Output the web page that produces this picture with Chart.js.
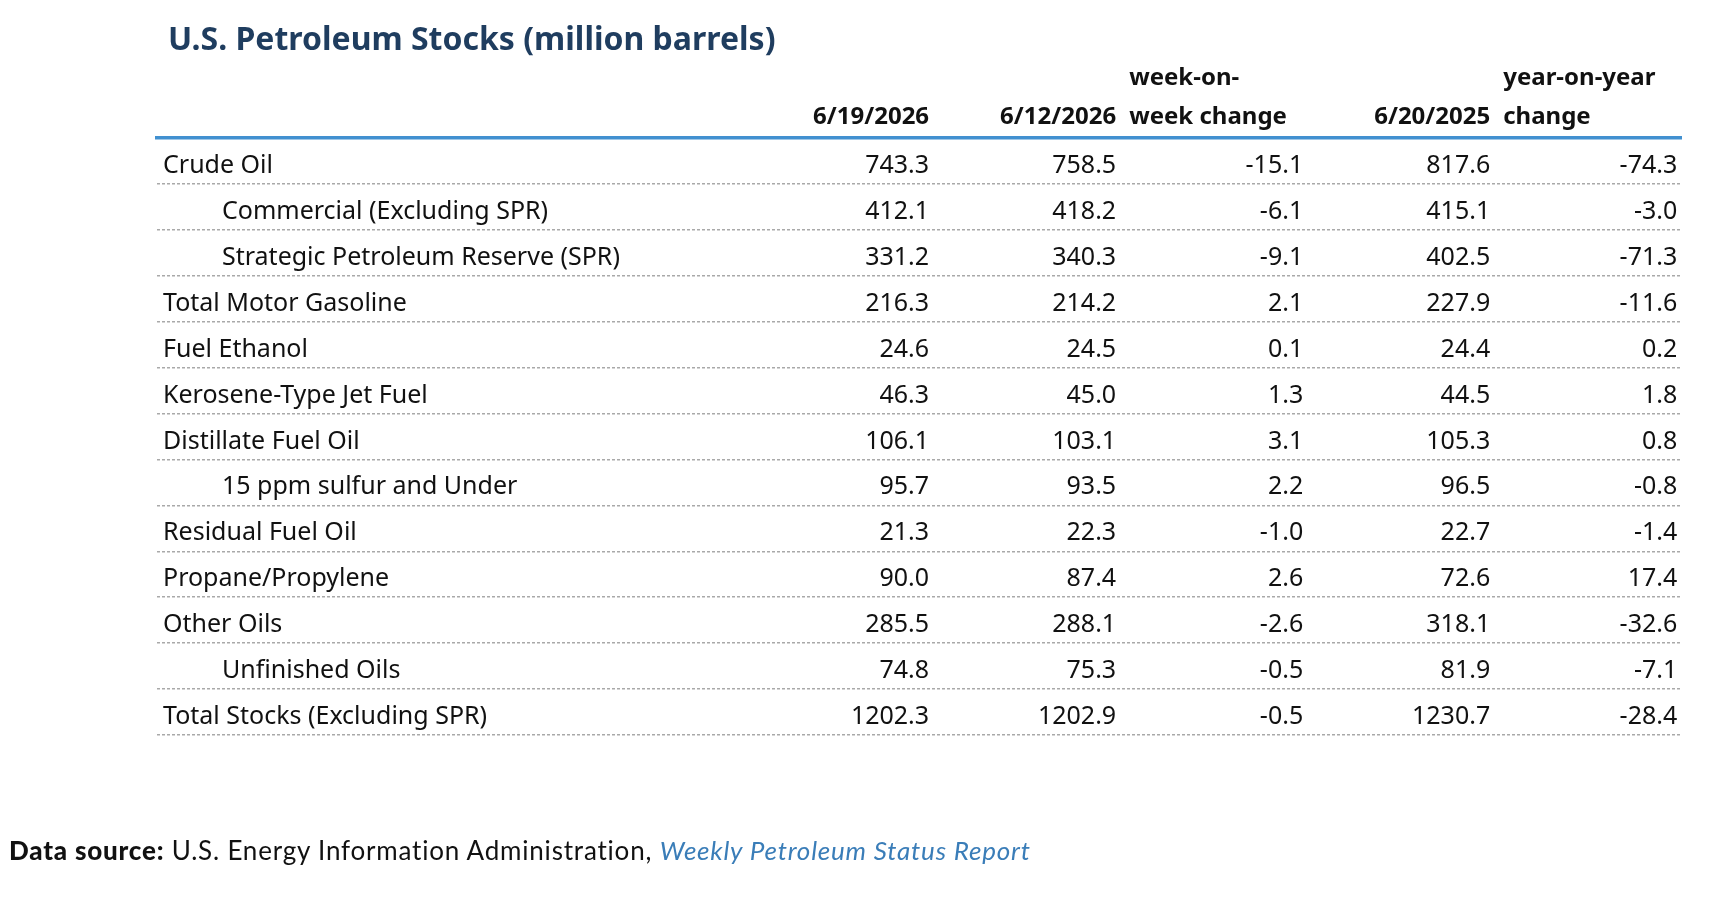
<!DOCTYPE html>
<html>
<head>
<meta charset="utf-8">
<script src="https://cdn.jsdelivr.net/npm/chart.js@4"></script>
<style>
  html, body { margin: 0; padding: 0; background: #fff; }
  #wrap { position: relative; width: 1716px; height: 912px; }
  #source {
    position: absolute; left: 9px; top: 837px;
    font-family: Lato, "Noto Sans", sans-serif; font-size: 26px; line-height: 1;
    letter-spacing: 0.8px; color: #111; white-space: nowrap;
  }
  #source b { font-weight: 900; }
  #source i { color: #3a7db8; }
</style>
</head>
<body>
<div id="wrap">
  <canvas id="stocks" width="1716" height="912"></canvas>
  <div id="source"><b>Data source:</b> U.S. Energy Information Administration, <i>Weekly Petroleum Status Report</i></div>
</div>
<script>
const TITLE = 'U.S. Petroleum Stocks (million barrels)';

const rowNames = [
  'Crude Oil',
  'Commercial (Excluding SPR)',
  'Strategic Petroleum Reserve (SPR)',
  'Total Motor Gasoline',
  'Fuel Ethanol',
  'Kerosene-Type Jet Fuel',
  'Distillate Fuel Oil',
  '15 ppm sulfur and Under',
  'Residual Fuel Oil',
  'Propane/Propylene',
  'Other Oils',
  'Unfinished Oils',
  'Total Stocks (Excluding SPR)',
];
// 1 = sub-row of the one above it
const rowLevel = [0, 1, 1, 0, 0, 0, 0, 1, 0, 0, 0, 1, 0];

const headTop = ['', '', 'week-on-', '', 'year-on-year'];
const headBottom = ['6/19/2026', '6/12/2026', 'week change', '6/20/2025', 'change'];

const stocks0619 = [743.3, 412.1, 331.2, 216.3, 24.6, 46.3, 106.1, 95.7, 21.3, 90.0, 285.5, 74.8, 1202.3];
const stocks0612 = [758.5, 418.2, 340.3, 214.2, 24.5, 45.0, 103.1, 93.5, 22.3, 87.4, 288.1, 75.3, 1202.9];
const weekChange = [-15.1, -6.1, -9.1, 2.1, 0.1, 1.3, 3.1, 2.2, -1.0, 2.6, -2.6, -0.5, -0.5];
const stocks0620 = [817.6, 415.1, 402.5, 227.9, 24.4, 44.5, 105.3, 96.5, 22.7, 72.6, 318.1, 81.9, 1230.7];
const yearChange = [-74.3, -3.0, -71.3, -11.6, 0.2, 1.8, 0.8, -0.8, -1.4, 17.4, -32.6, -7.1, -28.4];

const columns = [stocks0619, stocks0612, weekChange, stocks0620, yearChange];

const FONT = '"Noto Sans", "Open Sans", sans-serif';
const TEXT = '#111';

// each column is a dataset; x = column number, y = row label
const datasets = columns.map((values, c) => ({
  label: headBottom[c],
  data: values.map((v, i) => ({ x: c + 1, y: rowNames[i], v })),
  pointRadius: 0,
  pointHoverRadius: 0,
}));

const tablePlugin = {
  id: 'tableText',
  afterDraw(chart) {
    const { ctx, chartArea, scales } = chart;
    const x = scales.x, y = scales.y;
    ctx.save();

    // title
    ctx.fillStyle = '#1f3d5f';
    ctx.font = 'bold 32px ' + FONT;
    ctx.textAlign = 'left';
    ctx.textBaseline = 'alphabetic';
    ctx.fillText(TITLE, chartArea.left + 11, 50);

    // column headers
    ctx.fillStyle = TEXT;
    ctx.font = 'bold 24px ' + FONT;
    headBottom.forEach((h, c) => {
      const isChange = headTop[c] !== '';
      const px = isChange ? x.getPixelForValue(c) + 13 : x.getPixelForValue(c + 1);
      ctx.textAlign = isChange ? 'left' : 'right';
      ctx.fillText(h, px, chartArea.top - 14);
      if (isChange) ctx.fillText(headTop[c], px, chartArea.top - 53);
    });

    // row labels
    ctx.font = '25px ' + FONT;
    ctx.textAlign = 'left';
    rowNames.forEach((name, i) => {
      const py = y.getPixelForValue(i) + 12;
      ctx.fillText(name, chartArea.left + 6 + rowLevel[i] * 59, py);
    });

    // cell values at each dataset point
    ctx.textAlign = 'right';
    chart.data.datasets.forEach((ds, d) => {
      chart.getDatasetMeta(d).data.forEach((pt, i) => {
        ctx.fillText(ds.data[i].v.toFixed(1), pt.x, pt.y + 12);
      });
    });
    ctx.restore();
  }
};

new Chart(document.getElementById('stocks'), {
  type: 'scatter',
  data: { datasets },
  options: {
    responsive: false,
    animation: false,
    events: [],
    devicePixelRatio: 1,
    layout: { padding: { left: 157, right: 35, top: 138, bottom: 177 } },
    plugins: { legend: { display: false }, tooltip: { enabled: false } },
    scales: {
      x: {
        type: 'linear',
        position: 'top',
        min: -3.128,
        max: 5.02,
        ticks: { display: false },
        grid: { display: false, drawTicks: false },
        border: { display: true, color: '#4190d0', width: 3.5 },
      },
      y: {
        type: 'category',
        labels: rowNames,
        offset: true,
        ticks: { display: false },
        grid: {
          offset: true,
          drawTicks: false,
          lineWidth: 1.5,
          color: (c) => c.index === 0 ? 'rgba(0,0,0,0)' : '#a9a9a9',
        },
        border: { display: false, dash: [3, 2] },
      },
    },
  },
  plugins: [tablePlugin],
});
</script>
</body>
</html>
